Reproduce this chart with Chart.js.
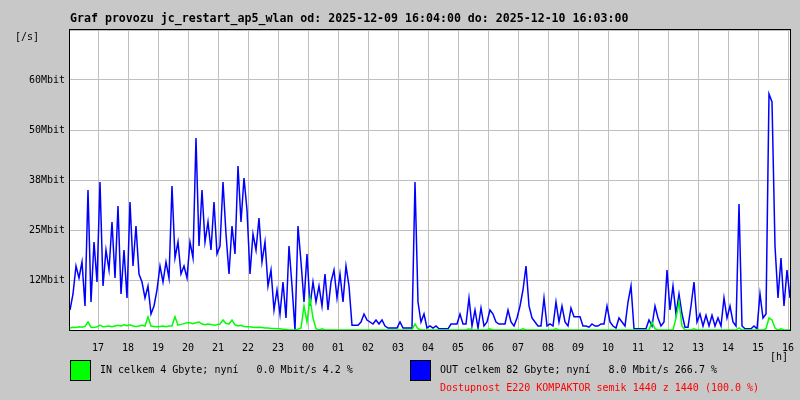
<!DOCTYPE html>
<html>
<head>
<meta charset="utf-8">
<script src="https://cdn.jsdelivr.net/npm/chart.js@4/dist/chart.umd.min.js"></script>
<style>
  html, body { margin: 0; padding: 0; background: #c8c8c8; }
  #graf { display: block; }
</style>
</head>
<body>
<canvas id="graf" width="800" height="400"></canvas>
<script>
  // data: one sample every 6 minutes, starting 2025-12-09 16:04
  const stepMin = 6;
  const hourTicks = [56, 116, 176, 236, 296, 356, 416, 476, 536, 596, 656, 716,
    776, 836, 896, 956, 1016, 1076, 1136, 1196, 1256, 1316, 1376, 1436];
  const hourLabels = ['17', '18', '19', '20', '21', '22', '23', '00', '01', '02', '03', '04',
    '05', '06', '07', '08', '09', '10', '11', '12', '13', '14', '15', '16'];
  const yTicks = [0, 12.5, 25, 37.5, 50, 62.5, 75];
  const yLabels = ['', '12Mbit', '25Mbit', '38Mbit', '50Mbit', '60Mbit', ''];

  // OUT [Mbit/s]
  const outMbit = [
    5, 9, 16, 13, 17, 6, 35, 7, 22, 12,
    37, 11, 20, 15, 27, 13, 31, 9, 20, 8,
    32, 16, 26, 14, 12, 8, 11, 4, 6, 10,
    16, 12, 17, 13, 36, 18, 22, 14, 16, 13,
    22, 18, 48, 21, 35, 22, 27, 20, 32, 19,
    21, 37, 24, 14, 26, 19, 41, 27, 38, 30,
    14, 24, 20, 28, 17, 22, 11, 15, 5, 10,
    4, 12, 3, 21, 11, 0, 26, 17, 7, 19,
    6, 12, 7, 11, 6, 14, 5, 12, 15, 8,
    14, 7, 16, 11, 1.2, 1.2, 1.2, 2, 4, 2.5,
    2, 1.5, 2.5, 1.5, 2.5, 1, 0.5, 0.5, 0.5, 0.5,
    2, 0.5, 0.5, 0.5, 0.5, 37, 7, 2, 4, 0.5,
    1, 0.5, 1, 0.3, 0.3, 0.3, 0.3, 1.5, 1.5, 1.5,
    4, 1.5, 1.5, 8, 1, 5, 0.5, 5.5, 1, 2,
    5, 4, 2, 1.5, 1.5, 1.5, 5, 2, 1, 3,
    6, 10, 16, 6, 3, 2, 1, 1, 8, 1,
    1.5, 1, 7, 2, 6, 2, 1, 5.5, 3.3, 3.3,
    3.3, 1, 1, 0.7, 1.5, 1, 1, 1.5, 1.5, 6,
    2, 1, 0.5, 3, 2, 1, 7, 11, 0.3, 0.3,
    0.3, 0.3, 0.3, 2.5, 1, 6, 3, 1, 2, 15,
    5, 11, 4, 9, 4, 0.7, 0.7, 6, 12, 2,
    4, 1, 3.7, 1, 3.7, 1, 3, 1, 8, 3,
    6, 2, 1, 31.5, 1, 0.3, 0.3, 0.3, 1, 0.3,
    9, 3, 4, 59, 57, 21, 8, 18, 6, 15,
    8
  ];

  // IN [Mbit/s]
  const inMbit = [
    0.5, 0.7, 0.6, 0.8, 0.7, 0.9, 2, 0.7, 0.6, 0.8,
    1.2, 0.8, 0.9, 1, 0.8, 1, 1.2, 1, 1.3, 1.1,
    1.3, 1, 0.9, 1, 1.2, 1, 3.3, 1, 0.9, 0.8,
    0.9, 1, 0.8, 1, 1, 3.3, 1.2, 1.4, 1.6, 1.8,
    1.8, 1.6, 1.8, 2, 1.5, 1.3, 1.5, 1.4, 1.2, 1.3,
    1.5, 2.5, 1.6, 1.5, 2.5, 1.3, 1, 1.2, 0.9, 0.8,
    0.8, 0.7, 0.6, 0.7, 0.6, 0.5, 0.5, 0.4, 0.4, 0.3,
    0.3, 0.2, 0.1, 0, 0, 0, 0.2, 0.5, 6, 2,
    8, 3, 0.3, 0, 0.3, 0, 0, 0, 0, 0,
    0, 0, 0, 0, 0, 0, 0, 0, 0, 0,
    0, 0, 0, 0, 0, 0, 0, 0, 0, 0,
    0, 0, 0, 0, 0, 1.5, 0.3, 0, 0, 0,
    0, 0, 0, 0, 0, 0, 0, 0, 0, 0,
    0, 0, 0, 0.3, 0, 0, 0, 0, 0, 0,
    0.3, 0, 0, 0, 0, 0, 0, 0, 0, 0,
    0, 0.3, 0, 0, 0, 0, 0, 0, 0, 0,
    0, 0, 0.3, 0, 0, 0, 0, 0, 0, 0,
    0, 0, 0, 0, 0, 0, 0, 0, 0, 0,
    0, 0, 0, 0, 0, 0, 0, 0, 0, 0,
    0, 0, 0, 0, 2, 0.3, 0, 0, 0, 0,
    0, 0, 3, 7, 1, 0, 0, 0, 0.3, 0,
    0, 0, 0, 0, 0, 0, 0, 0, 0, 0,
    0, 0, 0, 0.5, 0, 0, 0, 0, 0, 0,
    0, 0, 0.3, 3, 2.5, 0.5, 0, 0.3, 0, 0,
    0
  ];

  const mono = "'DejaVu Sans Mono', 'Liberation Mono', monospace";

  // titulek, legenda a ramecek
  const mrtgDecor = {
    id: 'mrtgDecor',
    beforeDraw(chart) {
      const c = chart.ctx;
      c.save();
      c.fillStyle = '#c8c8c8';
      c.fillRect(0, 0, chart.width, chart.height);
      const a = chart.chartArea;
      c.fillStyle = '#ffffff';
      c.fillRect(a.left, a.top, a.right - a.left, a.bottom - a.top);
      c.restore();
    },
    afterDraw(chart) {
      const c = chart.ctx;
      const a = chart.chartArea;
      c.save();
      c.strokeStyle = '#000000';
      c.lineWidth = 1;
      c.strokeRect(a.left - 0.5, a.top - 0.5, a.right - a.left + 1, a.bottom - a.top + 1);

      c.fillStyle = '#000000';
      c.textBaseline = 'alphabetic';
      c.font = 'bold 11.6px ' + mono;
      c.fillText('Graf provozu jc_restart_ap5_wlan od: 2025-12-09 16:04:00 do: 2025-12-10 16:03:00', 70, 22);

      c.font = '10px ' + mono;
      c.fillText('[/s]', 15, 40);
      c.fillText('[h]', 770, 360);

      c.fillStyle = '#00ff00';
      c.fillRect(70, 360, 21, 21);
      c.fillStyle = '#0000ff';
      c.fillRect(410, 360, 21, 21);
      c.strokeStyle = '#000000';
      c.strokeRect(70.5, 360.5, 20, 20);
      c.strokeRect(410.5, 360.5, 20, 20);

      c.fillStyle = '#000000';
      c.fillText('IN celkem 4 Gbyte; nyní   0.0 Mbit/s 4.2 %', 100, 373);
      c.fillText('OUT celkem 82 Gbyte; nyní   8.0 Mbit/s 266.7 %', 440, 373);
      c.fillStyle = '#ff0000';
      c.fillText('Dostupnost E220 KOMPAKTOR semik 1440 z 1440 (100.0 %)', 440, 391);
      c.restore();
    }
  };

  new Chart(document.getElementById('graf'), {
    type: 'line',
    data: {
      labels: outMbit.map((v, i) => i * stepMin),
      datasets: [{
        label: 'IN',
        data: inMbit,
        borderColor: '#00ff00',
        borderWidth: 1.5,
        pointRadius: 0,
        tension: 0
      }, {
        label: 'OUT',
        data: outMbit,
        borderColor: '#0000ff',
        borderWidth: 1.5,
        pointRadius: 0,
        tension: 0
      }]
    },
    options: {
      responsive: false,
      animation: false,
      events: [],
      layout: { padding: { left: 0, top: 30, right: 10, bottom: 0 } },
      plugins: {
        legend: { display: false },
        tooltip: { enabled: false }
      },
      scales: {
        x: {
          type: 'linear',
          min: 0,
          max: 1440,
          afterFit: s => { s.height = 70; s.paddingLeft = 0; s.paddingRight = 0; },
          afterBuildTicks: s => { s.ticks = hourTicks.map(v => ({ value: v })); },
          grid: { color: '#c0c0c0', lineWidth: 1, drawTicks: false },
          border: { display: false },
          ticks: {
            autoSkip: false,
            maxRotation: 0,
            padding: 12,
            color: '#000000',
            font: { family: mono, size: 10 },
            callback: (v, i) => hourLabels[i]
          }
        },
        y: {
          min: 0,
          max: 75,
          afterFit: s => { s.width = 70; s.paddingTop = 0; s.paddingBottom = 0; },
          afterBuildTicks: s => { s.ticks = yTicks.map(v => ({ value: v })); },
          grid: { color: '#c0c0c0', lineWidth: 1, drawTicks: false },
          border: { display: false },
          ticks: {
            padding: 5,
            color: '#000000',
            font: { family: mono, size: 10 },
            callback: (v, i) => yLabels[i]
          }
        }
      }
    },
    plugins: [mrtgDecor]
  });
</script>
</body>
</html>
